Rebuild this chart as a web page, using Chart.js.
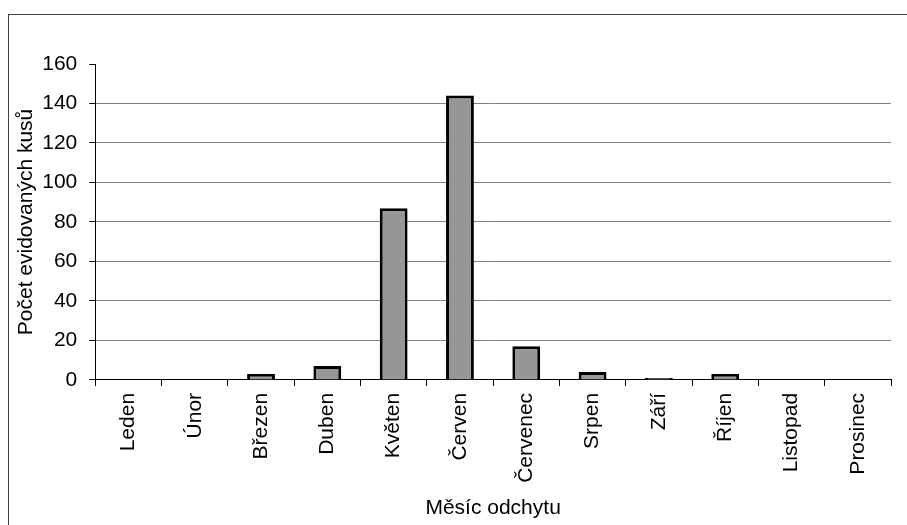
<!DOCTYPE html>
<html>
<head>
<meta charset="utf-8">
<script src="https://cdn.jsdelivr.net/npm/chart.js@4"></script>
<style>
  html, body { margin: 0; padding: 0; background: #fff; }
  #wrap { width: 907px; height: 525px; position: relative; }
</style>
</head>
<body>
<div id="wrap"><canvas id="chart"></canvas></div>
<script>
const months = ['Leden', 'Únor', 'Březen', 'Duben', 'Květen', 'Červen', 'Červenec', 'Srpen', 'Září', 'Říjen', 'Listopad', 'Prosinec'];
const counts = [0, 0, 3, 7, 87, 144, 17, 4, 1, 3, 0, 0];
const yTicks = [0, 20, 40, 60, 80, 100, 120, 140, 160];

const fontFamily = '"Liberation Sans", Arial, sans-serif';

// outer frame like the spreadsheet chart area
const framePlugin = {
  id: 'frame',
  afterDraw(chart) {
    const ctx = chart.ctx;
    ctx.save();
    ctx.strokeStyle = '#404040';
    ctx.lineWidth = 1;
    ctx.strokeRect(8.5, 14.5, 1000, 1000);
    ctx.restore();
  }
};

const ctx = document.getElementById('chart').getContext('2d');
new Chart(ctx, {
  type: 'bar',
  data: {
    labels: months,
    datasets: [{
      data: counts,
      backgroundColor: '#969696',
      borderColor: '#000000',
      borderWidth: 3,
      barPercentage: 0.42,
      categoryPercentage: 1.0
    }]
  },
  options: {
    responsive: true,
    maintainAspectRatio: false,
    animation: false,
    layout: { padding: { left: 14, right: 16, top: 64, bottom: 4 } },
    plugins: {
      legend: { display: false },
      tooltip: { enabled: false }
    },
    scales: {
      y: {
        min: 0,
        max: 160,
        afterBuildTicks: (axis) => { axis.ticks = yTicks.map(v => ({ value: v })); },
        border: { display: true, color: '#000', width: 1 },
        grid: {
          color: (c) => c.tick && c.tick.value === 160 ? 'rgba(0,0,0,0)' : (c.tick && c.tick.value === 0 ? '#000' : '#808080'),
          tickColor: '#000',
          tickLength: 6,
          lineWidth: 1
        },
        ticks: { color: '#000', font: { family: fontFamily, size: 21 }, padding: 12 },
        title: {
          display: true,
          text: 'Počet evidovaných kusů',
          color: '#000',
          font: { family: fontFamily, size: 21 },
          padding: { top: 0, bottom: -9 }
        }
      },
      x: {
        border: { display: true, color: '#000', width: 1 },
        grid: {
          offset: true,
          drawOnChartArea: false,
          drawTicks: true,
          tickColor: '#000',
          tickLength: 6
        },
        ticks: {
          color: '#000',
          font: { family: fontFamily, size: 21 },
          minRotation: 90,
          maxRotation: 90,
          padding: 7,
          autoSkip: false
        },
        title: {
          display: true,
          text: 'Měsíc odchytu',
          color: '#000',
          font: { family: fontFamily, size: 21 },
          padding: { top: 6, bottom: 0 }
        }
      }
    }
  },
  plugins: [framePlugin]
});
</script>
</body>
</html>
